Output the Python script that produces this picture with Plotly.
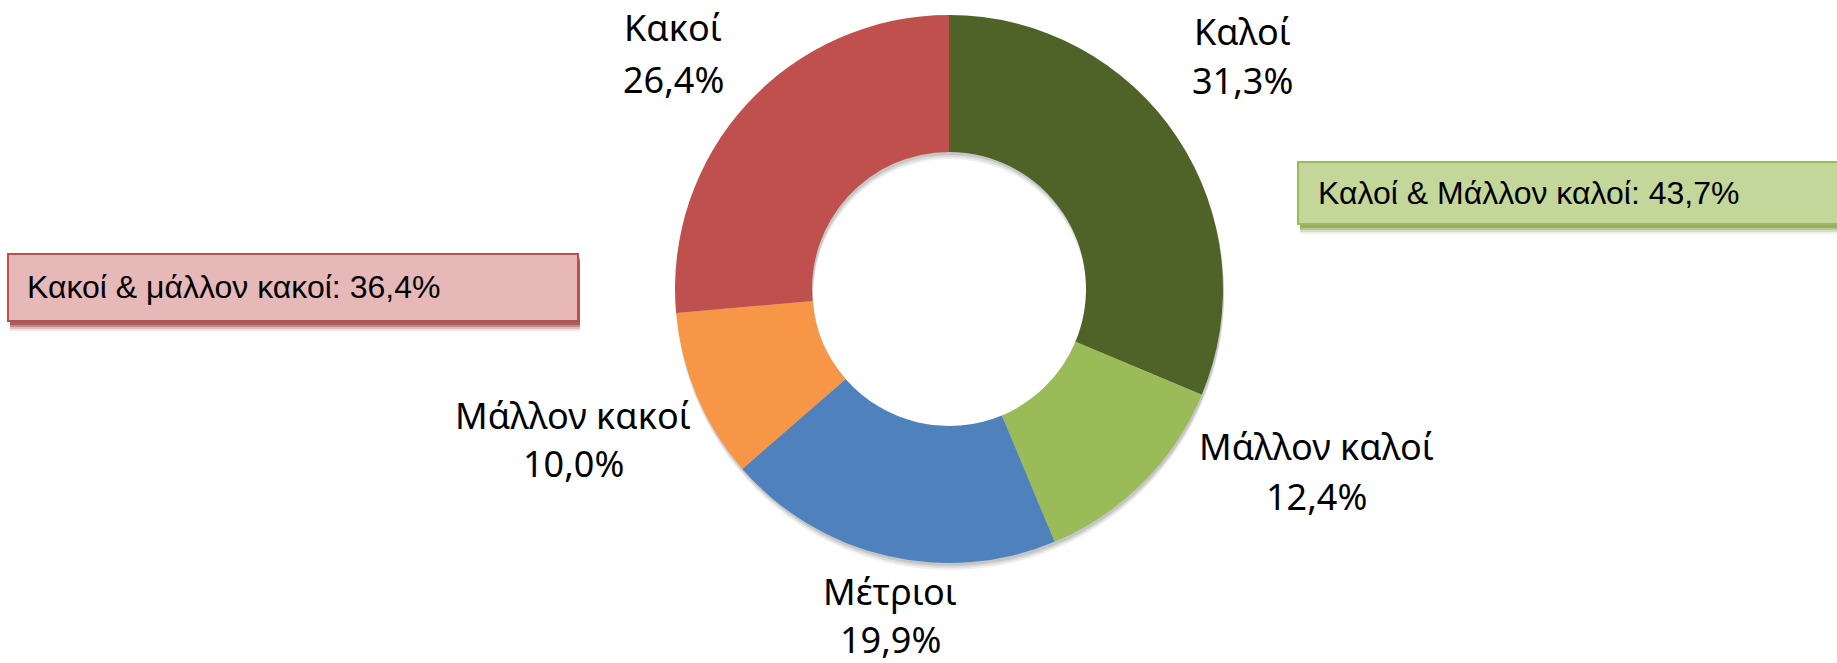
import plotly.graph_objects as go

W, H = 1837, 663

# ---- data ----
categories = ["Καλοί", "Μάλλον καλοί", "Μέτριοι", "Μάλλον κακοί", "Κακοί"]
values = [31.3, 12.4, 19.9, 10.0, 26.4]
colors = ["#4F6228", "#9BBB59", "#4F81BD", "#F79646", "#C0504D"]
group_good_label = "Καλοί & Μάλλον καλοί"
group_bad_label = "Κακοί & μάλλον κακοί"
group_good_value = 43.7
group_bad_value = 36.4


def fmt(v):
    return f"{v:.1f}".replace(".", ",") + "%"


def px(x):
    return x / W


def py(y):
    return 1 - y / H


# ---- layout geometry (pixels) ----
cx, cy, R = 949, 289, 274
label_pos = [  # (center x, name y, pct y)
    (1242, 31, 80),
    (1316, 446, 496),
    (890, 591, 639),
    (573, 415, 464),
    (673, 28, 79),
]

fig = go.Figure()

# soft drop shadow of the donut
for off, a in [(7, 0.06), (5, 0.08), (3, 0.10)]:
    fig.add_trace(go.Pie(
        values=[1], labels=["shadow"], hole=0.5, sort=False,
        marker=dict(colors=[f"rgba(0,0,0,{a})"], line=dict(width=0)),
        textinfo="none", hoverinfo="skip", showlegend=False,
        domain=dict(x=[px(cx - R + 1), px(cx + R + 1)],
                    y=[py(cy + R + off), py(cy - R + off)]),
    ))

fig.add_trace(go.Pie(
    labels=categories, values=values, hole=0.5, sort=False,
    direction="clockwise", rotation=0,
    marker=dict(colors=colors, line=dict(width=0)),
    textinfo="none", showlegend=False,
    domain=dict(x=[px(cx - R), px(cx + R)], y=[py(cy + R), py(cy - R)]),
))

label_font = dict(family="Noto Sans, Lato, sans-serif", size=36, color="#000000")
annotations = []
for cat, v, (lx, ny, vy) in zip(categories, values, label_pos):
    annotations.append(dict(x=px(lx), y=py(ny), xref="paper", yref="paper",
                            text=cat, showarrow=False, font=label_font,
                            xanchor="center", yanchor="middle"))
    annotations.append(dict(x=px(lx), y=py(vy), xref="paper", yref="paper",
                            text=fmt(v), showarrow=False, font=label_font,
                            xanchor="center", yanchor="middle"))

shapes = []


def callout(x0, y0, x1, y1, fill, border, shadow_rgb):
    for off, a in [(10, 0.12), (8, 0.22), (6, 0.35), (4, 0.5)]:
        shapes.append(dict(type="rect", xref="paper", yref="paper",
                           x0=px(x0 + 2), x1=px(x1 + 2), y0=py(y1 + off), y1=py(y0 + off),
                           fillcolor=f"rgba({shadow_rgb},{a})", line=dict(width=0),
                           layer="below"))
    shapes.append(dict(type="rect", xref="paper", yref="paper",
                       x0=px(x0), x1=px(x1), y0=py(y1), y1=py(y0),
                       fillcolor=fill, line=dict(color=border, width=2),
                       layer="below"))


callout(8, 254, 578, 321, "#E6B9B8", "#B9504D", "140,50,50")
callout(1298, 162, 1850, 224, "#C4D79B", "#9BBB59", "120,150,60")

box_font = dict(family="Liberation Sans, Arial, sans-serif", size=32, color="#000000")
annotations.append(dict(x=px(25), y=py(287), xref="paper", yref="paper",
                        text=f"{group_bad_label}: {fmt(group_bad_value)}",
                        showarrow=False, font=box_font, xanchor="left", yanchor="middle"))
annotations.append(dict(x=px(1316), y=py(193), xref="paper", yref="paper",
                        text=f"{group_good_label}: {fmt(group_good_value)}",
                        showarrow=False, font=box_font, xanchor="left", yanchor="middle"))

fig.update_layout(
    width=W, height=H,
    margin=dict(l=0, r=0, t=0, b=0),
    paper_bgcolor="white", plot_bgcolor="white",
    annotations=annotations, shapes=shapes,
    showlegend=False,
)

fig.write_html(
    "out.html",
    config={"displayModeBar": False},
    post_script="document.body.style.margin='0';document.body.style.padding='0';",
)
